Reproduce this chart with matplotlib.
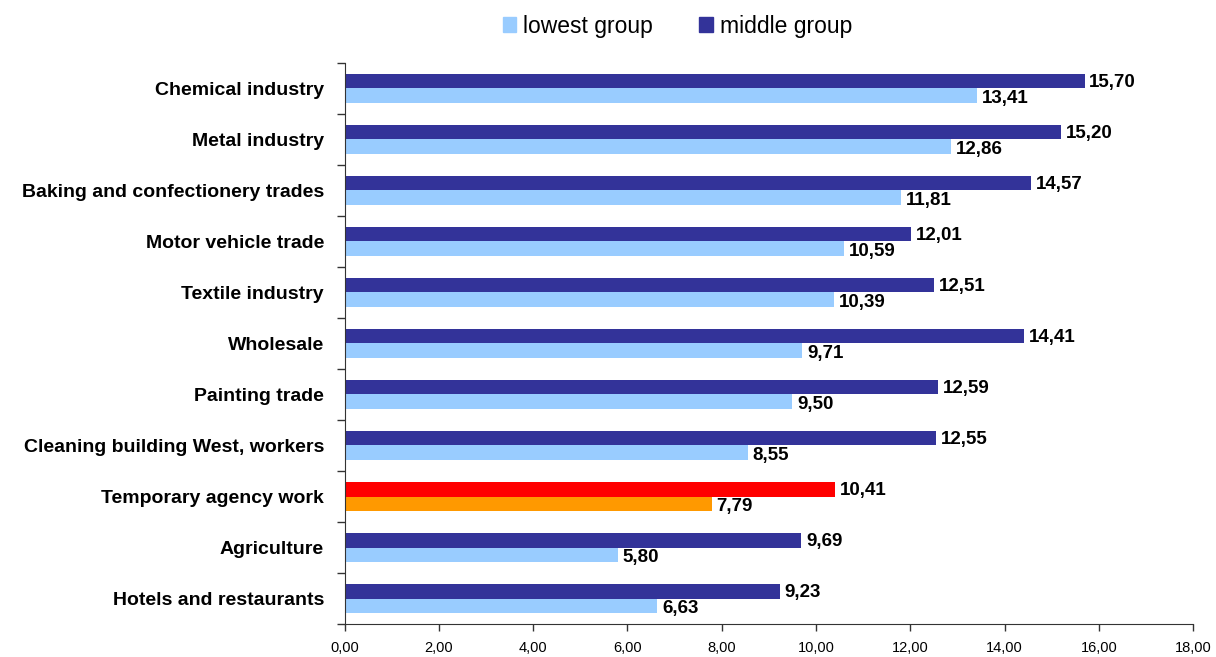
import matplotlib
matplotlib.use("Agg")
import matplotlib.pyplot as plt
from matplotlib.patches import Patch
import numpy as np

plt.rcParams['font.family'] = ['Liberation Sans', 'DejaVu Sans']

categories = ["Chemical industry", "Metal industry", "Baking and confectionery trades",
              "Motor vehicle trade", "Textile industry", "Wholesale", "Painting trade",
              "Cleaning building West, workers", "Temporary agency work",
              "Agriculture", "Hotels and restaurants"]
lowest = [13.41, 12.86, 11.81, 10.59, 10.39, 9.71, 9.50, 8.55, 7.79, 5.80, 6.63]
middle = [15.70, 15.20, 14.57, 12.01, 12.51, 14.41, 12.59, 12.55, 10.41, 9.69, 9.23]
highlight = "Temporary agency work"

DARK, LIGHT = "#333399", "#99CCFF"
RED, ORANGE = "#FF0000", "#FF9900"

fig = plt.figure(figsize=(12.16, 6.57), dpi=100)
ax = fig.add_axes([0.2835, 0.0502, 0.6976, 0.854])

pos = np.arange(len(categories))
h = 0.285
dark_cols = [RED if c == highlight else DARK for c in categories]
light_cols = [ORANGE if c == highlight else LIGHT for c in categories]
ax.barh(pos - h / 2, middle, height=h, color=dark_cols, zorder=2)
ax.barh(pos + h / 2, lowest, height=h, color=light_cols, zorder=2)

def fmt(v):
    return f"{v:.2f}".replace(".", ",")

# value labels, slightly below the bar centre like the original
for p, m, l in zip(pos, middle, lowest):
    ax.text(m + 0.1, p - h / 2 + 0.03, fmt(m), va="center", ha="left",
            fontsize=13.5, fontweight="bold")
    ax.text(l + 0.1, p + h / 2 + 0.06, fmt(l), va="center", ha="left",
            fontsize=13.5, fontweight="bold")

ax.set_xlim(0, 18)
ax.set_ylim(len(categories) - 0.5, -0.5)
ax.set_xticks(np.arange(0, 19, 2))
ax.set_xticklabels([fmt(x) for x in np.arange(0, 19, 2)], fontsize=10.5)
ax.set_yticks(pos)
ax.set_yticklabels(categories, fontsize=14, fontweight="bold")
ax.set_yticks(np.arange(-0.5, len(categories), 1), minor=True)
ax.tick_params(axis="y", which="major", length=0, pad=15)
ax.tick_params(axis="y", which="minor", length=6, width=1, color="#333333")
ax.tick_params(axis="x", length=5, width=1, color="#333333", pad=7)

for s in ("top", "right"):
    ax.spines[s].set_visible(False)
for s in ("left", "bottom"):
    ax.spines[s].set_color("#333333")

handles = [Patch(color=LIGHT, label="lowest group"),
           Patch(color=DARK, label="middle group")]
fig.legend(handles=handles, loc="center", bbox_to_anchor=(0.557, 0.96), ncol=2,
           frameon=False, fontsize=16.5, handlelength=0.6, handleheight=0.6,
           handletextpad=0.3, columnspacing=2.0)

fig.savefig("out.png", dpi=100)
